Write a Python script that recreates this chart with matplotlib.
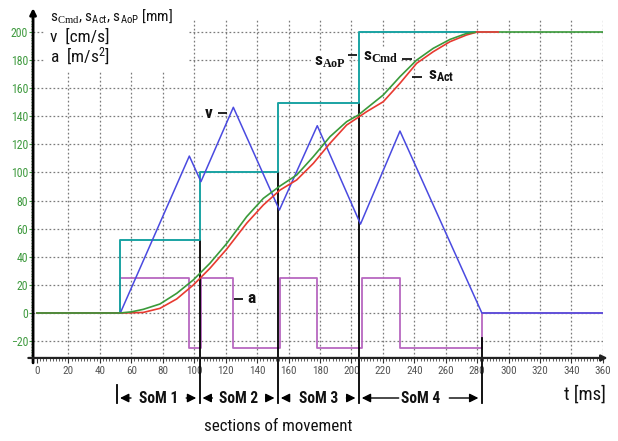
import matplotlib
matplotlib.use('Agg')
import matplotlib.pyplot as plt
from matplotlib import font_manager
from matplotlib.patches import Rectangle

names = {f.name for f in font_manager.fontManager.ttflist}
NARROW = 'Liberation Sans'
for cand in ['Liberation Sans Narrow', 'Arial Narrow', 'Roboto Condensed',
             'Archivo Narrow', 'PT Sans Narrow', 'Open Sans Condensed']:
    if cand in names:
        NARROW = cand
        break

plt.rcParams['font.family'] = [NARROW, 'DejaVu Sans']
plt.rcParams['mathtext.rm'] = 'Liberation Serif'
plt.rcParams['mathtext.cal'] = 'Liberation Serif:bold'
plt.rcParams['mathtext.sf'] = NARROW
plt.rcParams['mathtext.bf'] = NARROW + ':bold'
plt.rcParams['mathtext.it'] = NARROW + ':italic'

# ---------------- data ----------------
# velocity v [cm/s] breakpoints
t_v = [0, 53, 96.9, 104.3, 124.9, 154.2, 178.3, 205.8, 230.9, 283, 360]
v = [0, 0, 111.7, 93.5, 146.4, 73.3, 133.3, 63.3, 129.5, 0, 0]

# acceleration a [m/s^2] (step, value holds until next time)
t_a = [0, 53, 96.8, 104.5, 124.9, 154.5, 178.3, 206.5, 230.9, 283, 360]
a = [0, 25, -25, 25, -25, 25, -25, 25, -25, 0, 0]

# s_AoP [mm] (step)
t_aop = [53, 53, 103.5, 153.3, 204.8, 283]
s_aop = [0, 52, 100.5, 149.7, 200, 200]

# s_Cmd [mm]
t_cmd = [0, 52.8, 60, 67.6, 78.2, 88.9, 99.4, 110, 120.7, 133.4, 144, 154.6,
         165.2, 175.8, 186.4, 197, 204.4, 209.7, 220.3, 230.9, 241.5, 252.1,
         262.7, 273.3, 280, 360]
s_cmd = [0, 0, 0.8, 2.6, 6.4, 14, 23.5, 35.4, 49.5, 68.6, 81.6, 90.4,
         98.2, 111.3, 125.5, 136.2, 140.9, 145.7, 155.2, 168.2, 180, 188.4,
         194.7, 199, 200, 200]

# s_Act [mm]
t_act = [0, 55, 67.6, 78.2, 88.9, 99.4, 110, 120.7, 133.4, 144, 154.6,
         165.2, 175.8, 186.4, 197, 204.4, 209.7, 220.3, 230.9, 241.5, 252.1,
         262.7, 273.3, 280, 293]
s_act = [0, 0, 0.4, 3.3, 10, 19.9, 31.8, 45.5, 63.9, 76.9, 87.5,
         94.7, 106.5, 120.8, 133.8, 139.3, 143.3, 150.4, 163.5, 177.7, 186,
         193.1, 197.9, 200, 200]

# sections of movement
som_bounds = [51, 103.5, 153.3, 204.8, 283]
som_tops = [-51, 52, 100.5, 149.7, -18]
som_labels = ['SoM 1', 'SoM 2', 'SoM 3', 'SoM 4']
som_arrow_len = [(7, 6.4), (6.3, 5.7), (5.1, 5.8), (23.5, 18.5)]

x_ticks = list(range(0, 361, 20))
y_ticks = list(range(-20, 201, 20))

# ---------------- figure ----------------
fig = plt.figure(figsize=(6.18, 4.41), dpi=100)
ax = fig.add_axes([0.05351, 0.18830, 0.92205, 0.77100])
ax.set_xlim(-2.5, 360)
ax.set_ylim(-32, 210)
for s in ax.spines.values():
    s.set_visible(False)

GREEN_T = '#3f9a3f'
ax.set_xticks(x_ticks)
ax.set_yticks(y_ticks)
ax.set_xticks([x for x in range(0, 361, 2)], minor=True)
ax.set_yticks([y for y in range(-30, 211, 2)], minor=True)
ax.tick_params(axis='x', which='major', direction='out', length=3.5, width=0.8,
               color='#333333', labelsize=8, labelcolor='#555555', pad=2.5)
ax.tick_params(axis='x', which='minor', direction='out', length=2.5, width=0.6,
               color='#444444')
ax.tick_params(axis='y', which='major', direction='out', length=3, width=0.8,
               color=GREEN_T, labelsize=8.5, labelcolor=GREEN_T, pad=0.5)
ax.tick_params(axis='y', which='minor', direction='out', length=1.3, width=0.6,
               color=GREEN_T)
ax.set_axisbelow(True)
ax.grid(True, which='major', color='#7a7a7a', linestyle=(0, (1.4, 1.8)), lw=0.9)
ax.get_xgridlines()[0].set_visible(False)

# white area behind header
ax.add_patch(Rectangle((5, 171.5), 91, 45, facecolor='white', edgecolor='none',
                       zorder=1, clip_on=False))

# axes lines with arrows
ax.annotate('', xy=(-2.5, 217), xytext=(-2.5, -35.5),
            arrowprops=dict(arrowstyle='-|>', color='black', lw=2,
                            mutation_scale=9, shrinkA=0, shrinkB=0),
            annotation_clip=False, zorder=5)
ax.annotate('', xy=(363, -32), xytext=(-5.5, -32),
            arrowprops=dict(arrowstyle='-|>', color='#222222', lw=1.6,
                            mutation_scale=9, shrinkA=0, shrinkB=0),
            annotation_clip=False, zorder=5)

# series
ax.plot(t_a, a, drawstyle='steps-post', color='#b868c0', lw=1.3, zorder=2.0)
ax.plot(t_aop, s_aop, drawstyle='steps-post', color='#1aa3a3', lw=1.4, zorder=2.2)
ax.plot(t_v, v, color='#4a4ae0', lw=1.1, zorder=2.3)
ax.plot(t_act, s_act, color='#e83a30', lw=1.2, zorder=2.4)
ax.plot(t_cmd, s_cmd, color='#3a9a3a', lw=1.2, zorder=2.5)
ax.plot(t_act[-2:], s_act[-2:], color='#d84a40', lw=1.4, zorder=2.6)

# section boundary lines
for b, top in zip(som_bounds, som_tops):
    ax.plot([b, b], [top, -64], color='black', lw=1.3, zorder=2.1, clip_on=False)

# section labels and arrows
Y_SOM = -60.5
for i, lab in enumerate(som_labels):
    l, r = som_bounds[i], som_bounds[i + 1]
    mid = (l + r) / 2
    ax.text(mid, Y_SOM, lab, ha='center', va='center', fontsize=11.2,
            fontweight='bold', color='#111111')
    ll, rl = som_arrow_len[i]
    lt = l + 1.8
    rt = r - 2.2
    for tip, tail in ((lt, lt + ll), (rt, rt - rl)):
        ax.annotate('', xy=(tip, Y_SOM), xytext=(tail, Y_SOM),
                    arrowprops=dict(arrowstyle='-|>', color='black', lw=1,
                                    mutation_scale=13, shrinkA=0, shrinkB=0),
                    annotation_clip=False)

ax.text(362, -57.7, 't [ms]', ha='right', va='center', fontsize=13.5, color='#111111')
ax.text(153.3, -81.1, 'sections of movement', ha='center', va='center',
        fontsize=12.2, color='#111111')

# header
hdr = dict(ha='left', va='baseline', fontsize=12.5, color='#111111',
           math_fontfamily='custom', zorder=3)
ax.text(8.3, 207.8, r's$_{\mathrm{Cmd}}$, s$_{\mathsf{Act}}$, s$_{\mathsf{AoP}}$ [mm]',
        **{**hdr, 'fontsize': 11})
ax.text(8.3, 192.9, 'v  [cm/s]', **hdr)
ax.text(8.3, 178.0, r'a  [m/s$^{\mathsf{2}}$]', **hdr)

# in-plot labels
bb = dict(facecolor='white', edgecolor='none', pad=1.5)
lab = dict(fontsize=12.5, fontweight='bold', color='#111111',
           math_fontfamily='custom', zorder=1.5, bbox=bb)
ax.text(109.4, 142, 'v', ha='center', va='center', **lab)
ax.text(136.5, 10.3, 'a', ha='center', va='center', **lab)
ax.text(196.3, 176.5, r's$_{\mathcal{AoP}}$', ha='right', va='baseline', **lab)
ax.text(230.0, 180, r's$_{\mathcal{Cmd}}$', ha='right', va='baseline', **lab)
ax.text(248.7, 166.5, r's$_{\mathbf{Act}}$', ha='left', va='baseline', **lab)
for (x0, x1, y) in [(115.1, 121, 142.3), (125.3, 131, 10), (197.8, 203.6, 183.6),
                    (232.2, 238.5, 180.8), (238.5, 245, 168)]:
    ax.plot([x0, x1], [y, y], color='black', lw=1.2, zorder=3,
            solid_capstyle='butt')

fig.savefig('out.png', dpi=100)
